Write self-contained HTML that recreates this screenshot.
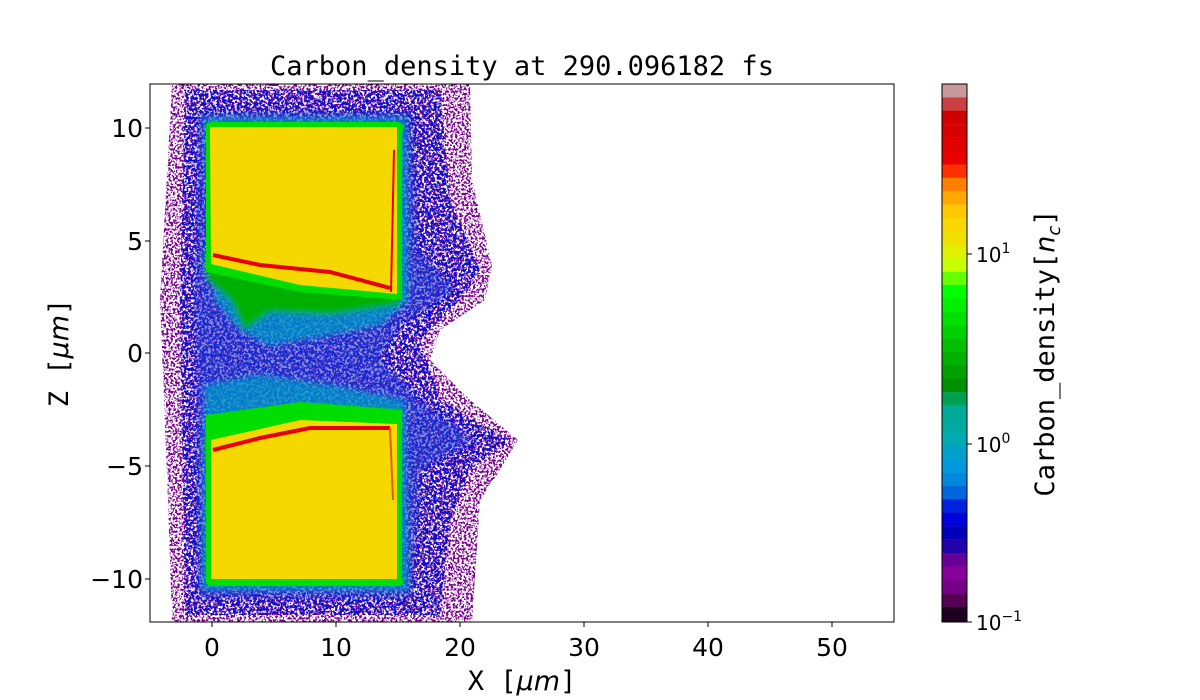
<!DOCTYPE html>
<html><head><meta charset="utf-8"><style>
html,body{margin:0;padding:0;background:#fff;}
svg{display:block;font-family:"DejaVu Sans",sans-serif;}
</style></head><body>
<svg width="1200" height="700" viewBox="0 0 1200 700" xmlns="http://www.w3.org/2000/svg">
<defs>
<filter id="spk" x="0" y="0" width="100%" height="100%">
<feTurbulence type="fractalNoise" baseFrequency="0.45" numOctaves="2" seed="3" result="n"/>
<feColorMatrix in="n" type="matrix" values="0 0 0 0 0  0 0 0 0 0  0 0 0 0 0  0 0 0 -10 5.3" result="m"/>
<feComposite in="SourceGraphic" in2="m" operator="in"/>
</filter>
<filter id="spk2" x="0" y="0" width="100%" height="100%">
<feTurbulence type="fractalNoise" baseFrequency="0.35" numOctaves="2" seed="8" result="n"/>
<feColorMatrix in="n" type="matrix" values="0 0 0 0 0  0 0 0 0 0  0 0 0 0 0  0 0 0 -10 5.4" result="m"/>
<feComposite in="SourceGraphic" in2="m" operator="in"/>
</filter>
<filter id="bl"><feGaussianBlur stdDeviation="3"/></filter>
<clipPath id="ax"><rect x="150" y="84" width="744" height="538"/></clipPath>
</defs>
<text x="522" y="75" font-size="27" text-anchor="middle" font-family="DejaVu Sans Mono, monospace">Carbon_density at 290.096182 fs</text>
<g clip-path="url(#ax)">
<g filter="url(#spk)">
<path d="M172,84 L470,84 L472,180 L492,265 L485,300 L440,330 L430,360 L470,400 L518,440 L500,470 L480,500 L472,622 L172,622 L168,500 L160,300 Z" fill="#7a0090"/>
</g>
<g filter="url(#spk2)">
<path d="M185,90 L440,90 L450,200 L480,270 L460,300 L420,340 L440,400 L510,440 L470,470 L450,520 L440,615 L185,615 L180,300 Z" fill="#1010cc"/>
</g>
<g filter="url(#bl)">
<path d="M198,112 L412,112 L418,250 L455,290 L400,325 L380,360 L420,400 L475,440 L420,470 L412,598 L198,598 L195,300 Z" fill="#2040d8" opacity="0.55"/>
<path d="M204,118 L406,118 L408,300 L380,325 L330,335 L270,345 L240,330 L215,300 Z" fill="#00a0c8" opacity="0.7"/>
<path d="M205,385 L260,375 L330,385 L405,400 L408,590 L202,590 Z" fill="#00a0c8" opacity="0.7"/>
<path d="M205,250 L400,280 L400,305 L330,315 L270,312 L245,330 L230,300 L207,280 Z" fill="#00b000"/>
<path d="M205,440 L250,412 L320,405 L400,410 L400,430 L205,460 Z" fill="#00b000"/>
</g>
<rect x="206" y="122" width="197" height="12" rx="5" fill="#00dd00"/>
<rect x="206" y="575" width="197" height="11" rx="5" fill="#00dd00"/>
<path d="M206,124 L402,124 L402,300 L300,292 L206,272 Z" fill="#00dd00"/>
<path d="M206,415 L300,402 L402,410 L402,584 L206,584 Z" fill="#00dd00"/>
<path d="M210,127 L397,127 L397,294 L300,285 L211,264 Z" fill="#f5d800"/>
<path d="M211,440 L300,420 L397,424 L397,579 L211,579 Z" fill="#f5d800"/>
<path d="M213,255 L260,265 L330,272 L390,288" stroke="#e80000" stroke-width="4" fill="none"/>
<path d="M394,150 L391,292" stroke="#e80000" stroke-width="2" fill="none"/>
<path d="M213,450 L260,438 L310,428 L390,428" stroke="#e80000" stroke-width="4" fill="none"/>
<path d="M390,428 L393,500" stroke="#e06000" stroke-width="2" fill="none"/>
</g>
<rect x="150" y="84" width="744" height="538" fill="none" stroke="#000" stroke-width="1"/>
<g font-size="25" text-anchor="middle">
<g stroke="#000"><line x1="212" y1="622" x2="212" y2="627"/><line x1="336" y1="622" x2="336" y2="627"/><line x1="460" y1="622" x2="460" y2="627"/><line x1="584" y1="622" x2="584" y2="627"/><line x1="708" y1="622" x2="708" y2="627"/><line x1="832" y1="622" x2="832" y2="627"/></g>
<text x="212" y="656">0</text><text x="336" y="656">10</text><text x="460" y="656">20</text><text x="584" y="656">30</text><text x="708" y="656">40</text><text x="832" y="656">50</text>
</g>
<text x="522" y="690" font-size="27" text-anchor="middle" font-family="DejaVu Sans Mono, monospace">X [<tspan font-family="DejaVu Sans" font-style="italic">μm</tspan>]</text>
<g font-size="25" text-anchor="end">
<g stroke="#000"><line x1="145" y1="128" x2="150" y2="128"/><line x1="145" y1="241" x2="150" y2="241"/><line x1="145" y1="353" x2="150" y2="353"/><line x1="145" y1="466" x2="150" y2="466"/><line x1="145" y1="579" x2="150" y2="579"/></g>
<text x="143" y="137">10</text><text x="143" y="250">5</text><text x="143" y="362">0</text><text x="143" y="475">−5</text><text x="143" y="588">−10</text>
</g>
<text transform="translate(68,353) rotate(-90)" font-size="27" text-anchor="middle" font-family="DejaVu Sans Mono, monospace">Z [<tspan font-family="DejaVu Sans" font-style="italic">μm</tspan>]</text>
<g>
<rect x="942" y="84.0" width="25" height="13.6" fill="#c89a9e"/>
<rect x="942" y="97.4" width="25" height="13.6" fill="#c84040"/>
<rect x="942" y="110.8" width="25" height="13.6" fill="#d00000"/>
<rect x="942" y="124.2" width="25" height="13.6" fill="#d80000"/>
<rect x="942" y="137.6" width="25" height="13.6" fill="#e00000"/>
<rect x="942" y="151.0" width="25" height="13.6" fill="#e80000"/>
<rect x="942" y="164.4" width="25" height="13.6" fill="#ff3000"/>
<rect x="942" y="177.8" width="25" height="13.6" fill="#ff8000"/>
<rect x="942" y="191.2" width="25" height="13.6" fill="#ffa800"/>
<rect x="942" y="204.6" width="25" height="13.6" fill="#ffc800"/>
<rect x="942" y="218.0" width="25" height="13.6" fill="#f8d800"/>
<rect x="942" y="231.4" width="25" height="13.6" fill="#f0e000"/>
<rect x="942" y="244.8" width="25" height="13.6" fill="#e0f000"/>
<rect x="942" y="258.2" width="25" height="13.6" fill="#c8ff00"/>
<rect x="942" y="271.6" width="25" height="13.6" fill="#66ff00"/>
<rect x="942" y="285.0" width="25" height="13.6" fill="#00ff00"/>
<rect x="942" y="298.4" width="25" height="13.6" fill="#00f000"/>
<rect x="942" y="311.8" width="25" height="13.6" fill="#00e000"/>
<rect x="942" y="325.2" width="25" height="13.6" fill="#00d000"/>
<rect x="942" y="338.6" width="25" height="13.6" fill="#00c000"/>
<rect x="942" y="352.0" width="25" height="13.6" fill="#00b000"/>
<rect x="942" y="365.4" width="25" height="13.6" fill="#00a000"/>
<rect x="942" y="378.8" width="25" height="13.6" fill="#009000"/>
<rect x="942" y="392.2" width="25" height="13.6" fill="#00a050"/>
<rect x="942" y="405.6" width="25" height="13.6" fill="#00aa99"/>
<rect x="942" y="419.0" width="25" height="13.6" fill="#00aaa0"/>
<rect x="942" y="432.4" width="25" height="13.6" fill="#00aab0"/>
<rect x="942" y="445.8" width="25" height="13.6" fill="#00a0c8"/>
<rect x="942" y="459.2" width="25" height="13.6" fill="#0098dd"/>
<rect x="942" y="472.6" width="25" height="13.6" fill="#0088dd"/>
<rect x="942" y="486.0" width="25" height="13.6" fill="#0066dd"/>
<rect x="942" y="499.4" width="25" height="13.6" fill="#0022dd"/>
<rect x="942" y="512.8" width="25" height="13.6" fill="#0000dd"/>
<rect x="942" y="526.2" width="25" height="13.6" fill="#0000bb"/>
<rect x="942" y="539.6" width="25" height="13.6" fill="#2200aa"/>
<rect x="942" y="553.0" width="25" height="13.6" fill="#660099"/>
<rect x="942" y="566.4" width="25" height="13.6" fill="#880099"/>
<rect x="942" y="579.8" width="25" height="13.6" fill="#770088"/>
<rect x="942" y="593.2" width="25" height="13.6" fill="#550055"/>
<rect x="942" y="606.6" width="25" height="15.4" fill="#200020"/>
</g>
<rect x="942" y="84" width="25" height="538" fill="none" stroke="#000"/>
<g stroke="#000"><line x1="967" y1="254" x2="972" y2="254"/><line x1="967" y1="444" x2="972" y2="444"/><line x1="967" y1="622" x2="972" y2="622"/></g>
<g font-size="20">
<text x="976" y="262">10<tspan font-size="14" dy="-9">1</tspan></text>
<text x="976" y="452">10<tspan font-size="14" dy="-9">0</tspan></text>
<text x="976" y="630">10<tspan font-size="14" dy="-9">−1</tspan></text>
</g>
<text transform="translate(1054,353) rotate(-90)" font-size="27" text-anchor="middle" font-family="DejaVu Sans Mono, monospace">Carbon_density[<tspan font-family="DejaVu Sans" font-style="italic">n</tspan><tspan font-family="DejaVu Sans" font-style="italic" font-size="18" dy="6">c</tspan><tspan dy="-6">]</tspan></text>
</svg>
</body></html>
